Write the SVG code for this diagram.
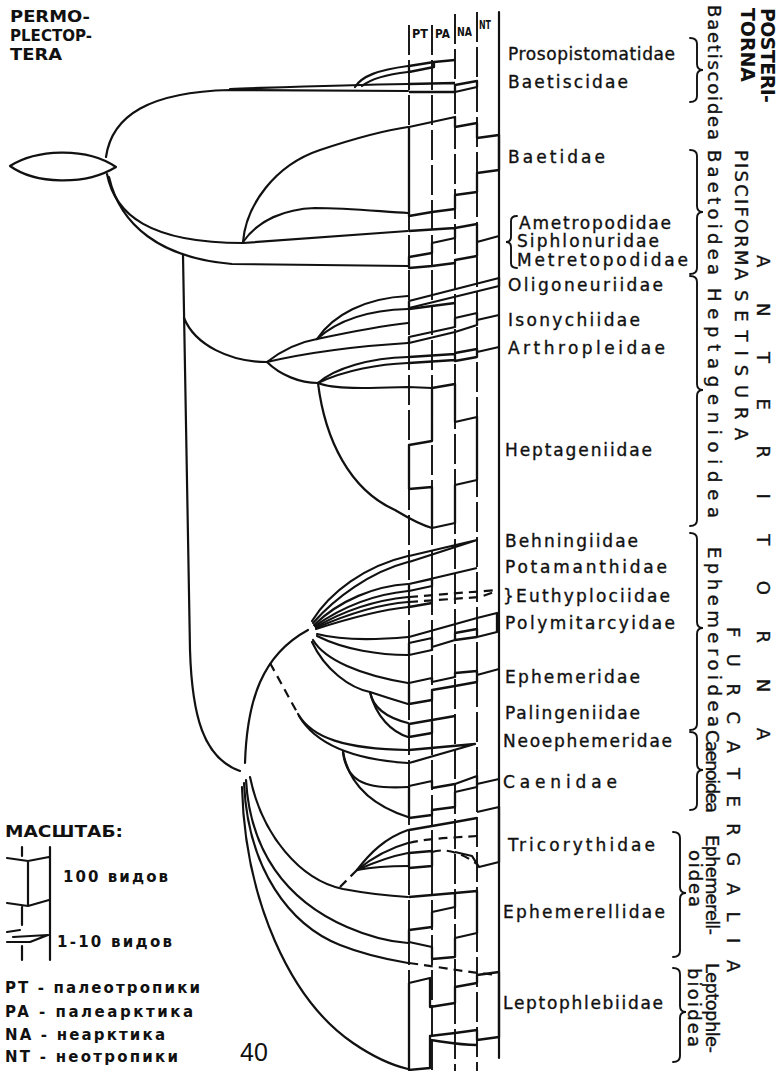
<svg xmlns="http://www.w3.org/2000/svg" width="777" height="1071" viewBox="0 0 777 1071">
<style>
.t{stroke:#111;stroke-width:2.2;fill:none;stroke-linecap:round;stroke-linejoin:round}
.d{stroke:#111;stroke-width:2.2;fill:none;stroke-dasharray:9 6}
.col{stroke:#111;stroke-width:1.9;fill:none;stroke-dasharray:30 5}
.s{stroke:#111;stroke-width:2.3;fill:none;stroke-linejoin:round}
.br{stroke:#111;stroke-width:1.9;fill:none;stroke-linecap:round}
.lb{font-family:"DejaVu Sans",sans-serif;font-size:17px;fill:#111;stroke:#111;stroke-width:0.35}
.vt{font-family:"DejaVu Sans",sans-serif;font-size:18px;fill:#111;stroke:#111;stroke-width:0.35}
.bd{font-family:"DejaVu Sans",sans-serif;font-weight:bold;fill:#111}
.lg{font-family:"DejaVu Sans",sans-serif;font-weight:bold;font-size:15px;fill:#111}
</style>
<rect width="777" height="1071" fill="#fff"/>

<g id="title">
<text class="bd" font-size="15" x="10" y="22" textLength="80" lengthAdjust="spacingAndGlyphs">PERMO-</text>
<text class="bd" font-size="15" x="10" y="41" textLength="82" lengthAdjust="spacingAndGlyphs">PLECTOP-</text>
<text class="bd" font-size="15" x="10" y="60" textLength="52" lengthAdjust="spacingAndGlyphs">TERA</text>
</g>

<g id="columns">
<line class="col" x1="409" y1="25" x2="409" y2="1071"/>
<line class="col" x1="432" y1="25" x2="432" y2="1071"/>
<line class="col" x1="455" y1="14" x2="455" y2="1071"/>
<line class="col" x1="477" y1="12" x2="477" y2="1071"/>
<line class="t" x1="499" y1="12" x2="499" y2="1058"/>
<text class="bd" font-size="13" x="412" y="38" textLength="16" lengthAdjust="spacingAndGlyphs">PT</text>
<text class="bd" font-size="13" x="435" y="38" textLength="15" lengthAdjust="spacingAndGlyphs">PA</text>
<text class="bd" font-size="13" x="457" y="36" textLength="15" lengthAdjust="spacingAndGlyphs">NA</text>
<text class="bd" font-size="13" x="479" y="29" textLength="12" lengthAdjust="spacingAndGlyphs">NT</text>
</g>

<g id="connectors">
<path class="t" d="M10,166 C35,150 85,146 116,167 C85,186 35,184 10,166 Z"/>
<path class="t" d="M106,157 C112,115 150,92 230,90 L408,91"/>
<path class="t" d="M230,89 C290,87 340,85 408,84"/>
<path class="t" d="M355,87 C362,76 378,70 408,66"/>
<path class="t" d="M362,86 C372,78 390,74 408,72"/>
<path class="t" d="M107,174 C115,215 150,243 243,243"/>
<path class="t" d="M109,177 C120,225 160,258 232,264 L408,266"/>
<path class="t" d="M243,242 C246,205 275,165 320,150 C350,140 380,131 408,127"/>
<path class="t" d="M243,242 C258,220 285,209 315,208 C350,208 385,212 408,213"/>
<path class="t" d="M243,243 L408,231"/>
<path class="t" d="M183,255 L190,650 C192,715 203,758 240,771"/>
<path class="t" d="M184,318 C195,345 230,362 267,362"/>
<path class="t" d="M267,362 C285,348 300,342 317,339"/>
<path class="t" d="M317,339 C333,315 365,298 408,296"/>
<path class="t" d="M317,339 C340,318 372,310 408,309"/>
<path class="t" d="M317,339 C350,332 380,326 408,323"/>
<path class="t" d="M267,362 C310,352 360,346 408,343"/>
<path class="t" d="M267,362 C280,375 300,383 318,383"/>
<path class="t" d="M318,383 C335,368 370,358 408,357"/>
<path class="t" d="M318,383 C345,370 380,364 408,363"/>
<path class="t" d="M318,383 C335,390 375,388 408,387 L432,388"/>
<path class="t" d="M318,383 C325,440 350,490 395,510 C405,516 418,524 432,528"/>
<path class="t" d="M245,763 C247,700 262,655 308,630"/>
<path class="t" d="M312,621 C330,592 365,566 408,556"/>
<path class="t" d="M313,623 C335,598 370,572 408,562"/>
<path class="t" d="M314,625 C340,600 375,586 408,584"/>
<path class="t" d="M315,626 C345,605 378,594 408,591"/>
<path class="t" d="M316,627 C345,610 378,600 408,597"/>
<path class="t" d="M316,628 C348,614 380,604 408,602"/>
<path class="t" d="M316,629 C350,618 380,610 408,607"/>
<path class="t" d="M317,634 C340,640 375,640 408,637"/>
<path class="t" d="M317,636 C345,650 380,655 408,655"/>
<path class="t" d="M313,640 C325,660 360,675 408,683"/>
<path class="t" d="M312,642 C325,670 350,688 370,692 C385,697 398,701 408,704"/>
<path class="t" d="M370,692 C373,708 388,718 408,723"/>
<path class="t" d="M370,692 C376,717 392,732 408,737"/>
<path class="d" d="M270,663 L298,714"/>
<path class="t" d="M298,714 C312,738 345,749 408,750"/>
<path class="t" d="M299,716 C318,748 360,760 408,763"/>
<path class="t" d="M343,752 C346,778 360,790 408,787"/>
<path class="t" d="M343,752 C350,790 380,808 408,817"/>
<path class="t" d="M250,777 C262,835 300,880 343,889 C370,894 390,896 408,897"/>
<path class="d" d="M340,887 L357,870"/>
<path class="t" d="M357,870 C370,853 385,838 408,830"/>
<path class="t" d="M357,870 C372,858 390,848 408,843"/>
<path class="t" d="M357,870 C375,862 392,856 408,853"/>
<path class="t" d="M357,870 C378,866 395,866 408,866"/>
<path class="t" d="M246,780 C250,850 285,900 347,927 C370,937 392,942 408,943"/>
<path class="t" d="M244,783 C248,870 290,925 340,945 C365,955 390,960 408,963"/>
<path class="t" d="M242,787 C245,900 290,1000 353,1043 C375,1058 395,1066 408,1069"/>
</g>

<g id="prosopistomatidae">
<path class="s" d="M409,66 L434,62 L434,67 L409,72 Z M434,62 L455,60"/>
<text class="lb" x="508" y="60" textLength="167" lengthAdjust="spacing">Prosopistomatidae</text>
</g>
<g id="baetiscidae">
<path class="s" d="M409,84 L455,83 M409,92 L455,92 M455,85 L477,81 L477,87 L455,92 Z"/>
<text class="lb" x="508" y="88" textLength="120" lengthAdjust="spacing">Baetiscidae</text>
</g>
<g id="baetidae">
<path class="s" d="M409,127 L455,117 L455,127 L477,123 L477,138 L499,135 L499,170 L477,173 L477,192 L455,195 L455,209 L432,212 L409,216 Z"/>
<text class="lb" x="508" y="163" textLength="97" lengthAdjust="spacing">Baetidae</text>
</g>
<g id="baetoidea-group">
<path class="s" d="M409,231 L455,228 M409,257 L432,253 L432,243 L455,238 L455,228 L477,224 L477,256 L455,260 L455,263 L432,266 L409,268 Z M477,242 L499,236"/>
<path class="br" d="M517,216 Q511,216 511,221 L511,237 Q511,242 506,242 Q511,242 511,247 L511,263 Q511,268 517,268"/>
<text class="lb" x="519" y="229" textLength="152" lengthAdjust="spacing">Ametropodidae</text>
<text class="lb" x="517" y="247" textLength="142" lengthAdjust="spacing">Siphlonuridae</text>
<text class="lb" x="517" y="266" textLength="171" lengthAdjust="spacing">Metretopodidae</text>
</g>
<g id="oligoneuriidae">
<path class="s" d="M409,301 L499,278 L499,286 L409,308 Z"/>
<text class="lb" x="508" y="291" textLength="155" lengthAdjust="spacing">Oligoneuriidae</text>
</g>
<g id="isonychiidae">
<path class="s" d="M409,309 L455,303 M409,337 L455,327 L455,318 L477,313 L477,325 L455,332 L409,343 Z M477,320 L499,315"/>
<text class="lb" x="508" y="326" textLength="132" lengthAdjust="spacing">Isonychiidae</text>
</g>
<g id="arthropleidae">
<path class="s" d="M409,357 L455,354 M409,363 L455,360 M455,353 L477,349 L477,357 L455,361 Z M477,352 L499,347"/>
<text class="lb" x="508" y="354" textLength="157" lengthAdjust="spacing">Arthropleidae</text>
</g>
<g id="heptageniidae">
<path class="s" d="M432,388 L455,384 L455,422 L477,417 L477,480 L455,485 L455,523 L432,528 L432,487 L409,489 L409,445 L432,441 Z"/>
<text class="lb" x="505" y="456" textLength="147" lengthAdjust="spacing">Heptageniidae</text>
</g>
<g id="behningiidae">
<path class="s" d="M409,556 L477,540 L409,562"/>
<text class="lb" x="505" y="547" textLength="133" lengthAdjust="spacing">Behningiidae</text>
</g>
<g id="potamanthidae">
<path class="s" d="M409,584 L477,568 M409,584 L432,579 L432,586 L409,591 Z"/>
<text class="lb" x="505" y="573" textLength="162" lengthAdjust="spacing">Potamanthidae</text>
</g>
<g id="euthyplociidae">
<path class="d" d="M409,597 L497,590 M409,602 L480,597 L497,591"/>
<path class="s" d="M409,607 L432,603 M409,597 L409,607"/>
<text class="lb" x="503" y="602" textLength="167" lengthAdjust="spacing">}Euthyplociidae</text>
</g>
<g id="polymitarcyidae">
<path class="s" d="M409,637 L477,618 L497,613 L497,632 L477,637 M455,633 L477,629 L477,637 L455,640 Z M409,643 L432,638 L432,650 L409,655 Z M432,647 L455,640"/>
<text class="lb" x="505" y="629" textLength="170" lengthAdjust="spacing">Polymitarcyidae</text>
</g>
<g id="ephemeridae">
<path class="s" d="M409,683 L432,678 L432,682 L455,677 L455,673 L477,671 L477,682 L455,686 L432,690 L432,700 L409,704 Z M477,675 L499,669"/>
<text class="lb" x="505" y="683" textLength="135" lengthAdjust="spacing">Ephemeridae</text>
</g>
<g id="palingeniidae">
<path class="s" d="M409,724 L432,720 L432,733 L409,737 Z M432,720 L455,716"/>
<text class="lb" x="505" y="719" textLength="135" lengthAdjust="spacing">Palingeniidae</text>
</g>
<g id="neoephemeridae">
<path class="s" d="M409,750 L475,744 L409,763"/>
<text class="lb" x="503" y="747" textLength="169" lengthAdjust="spacing">Neoephemeridae</text>
</g>
<g id="caenidae">
<path class="s" d="M409,786 L432,781 L432,788 L455,784 L477,776 L477,787 L455,792 L455,807 L432,810 L432,815 L409,818 Z M477,784 L499,779"/>
<text class="lb" x="503" y="788" textLength="114" lengthAdjust="spacing">Caenidae</text>
</g>
<g id="tricorythidae">
<path class="s" d="M409,853 L432,851 L432,866 L409,868 Z M409,830 L432,826 L455,822 L477,818 M477,812 L499,807 L499,862 L479,867 L472,856 L455,852"/>
<path class="d" d="M432,852 C445,848 460,852 477,864 M409,843 C430,838 450,838 477,836"/>
<text class="lb" x="508" y="851" textLength="147" lengthAdjust="spacing">Tricorythidae</text>
</g>
<g id="ephemerellidae">
<path class="s" d="M409,897 L455,893 M455,893 L477,891 L477,933 L455,938 L455,957 L432,959 L432,947 L409,942 L409,930 L432,927 L432,912 L455,907 Z"/>
<text class="lb" x="503" y="918" textLength="162" lengthAdjust="spacing">Ephemerellidae</text>
</g>
<g id="leptophlebiidae">
<path class="d" d="M409,963 C440,967 465,972 497,975"/>
<path class="s" d="M409,983 L430,978 L430,1007 L455,1003 L455,987 L477,983 L477,975 L499,972 L499,1037 L477,1040 L477,1030 L455,1033 L430,1036 L430,1068 L409,1070 Z M430,1040 C445,1042 460,1045 477,1045"/>
<text class="lb" x="503" y="1009" textLength="160" lengthAdjust="spacing">Leptophlebiidae</text>
</g>

<g id="groups">
<path class="br" d="M690,38 Q697,38 697,44 L697,64 Q697,70 703,70 Q697,70 697,76 L697,96 Q697,102 690,102"/>
<path class="br" d="M690,150 Q697,150 697,156 L697,206 Q697,212 703,212 Q697,212 697,218 L697,268 Q697,274 690,274"/>
<path class="br" d="M690,276 Q697,276 697,282 L697,384 Q697,390 703,390 Q697,390 697,396 L697,520 Q697,526 690,526"/>
<path class="br" d="M690,533 Q697,533 697,539 L697,622 Q697,628 703,628 Q697,628 697,634 L697,724 Q697,730 690,730"/>
<path class="br" d="M690,732 Q697,732 697,738 L697,764 Q697,770 703,770 Q697,770 697,776 L697,804 Q697,810 690,810"/>
<path class="br" d="M673,832 Q680,832 680,838 L680,887 Q680,893 686,893 Q680,893 680,899 L680,951 Q680,957 673,957"/>
<path class="br" d="M673,968 Q680,968 680,974 L680,1006 Q680,1012 686,1012 Q680,1012 680,1018 L680,1056 Q680,1062 673,1062"/>
<text class="bd" font-size="19" transform="translate(761,8) rotate(90)" textLength="95" lengthAdjust="spacing">POSTERI-</text>
<text class="bd" font-size="19" transform="translate(741,8) rotate(90)" textLength="74" lengthAdjust="spacing">TORNA</text>
<text class="vt" transform="translate(708,5) rotate(90)" textLength="135" lengthAdjust="spacing">Baetiscoidea</text>
<text class="vt" transform="translate(735,150) rotate(90)" textLength="130" lengthAdjust="spacing">PISCIFORMA</text>
<text class="vt" transform="translate(708,150) rotate(90)" textLength="125" lengthAdjust="spacing">Baetoidea</text>
<text class="vt" transform="translate(708,288) rotate(90)" textLength="230" lengthAdjust="spacing">Heptagenioidea</text>
<text class="vt" transform="translate(735,290) rotate(90)" textLength="150" lengthAdjust="spacing">SETISURA</text>
<text class="vt" font-size="25" transform="translate(757,255) rotate(90)" textLength="485" lengthAdjust="spacing">ANTERITORNA</text>
<text class="vt" transform="translate(708,547) rotate(90)" textLength="180" lengthAdjust="spacing">Ephemeroidea</text>
<text class="vt" font-size="21" transform="translate(727,627) rotate(90)" textLength="345" lengthAdjust="spacing">FURCATERGALIA</text>
<text class="vt" font-size="14" transform="translate(706,730) rotate(90)" textLength="83" lengthAdjust="spacing">Caenoidea</text>
<text class="vt" font-size="16" transform="translate(706,835) rotate(90)" textLength="100" lengthAdjust="spacing">Ephemerell-</text>
<text class="vt" font-size="16" transform="translate(689,850) rotate(90)" textLength="57" lengthAdjust="spacing">oidea</text>
<text class="vt" font-size="16" transform="translate(706,963) rotate(90)" textLength="90" lengthAdjust="spacing">Leptophle-</text>
<text class="vt" font-size="16" transform="translate(688,968) rotate(90)" textLength="79" lengthAdjust="spacing">bioidea</text>
</g>

<g id="legend">
<text class="lg" font-size="16" x="5" y="837" textLength="118" lengthAdjust="spacingAndGlyphs">МАСШТАБ:</text>
<path class="t" d="M50,847 L50,960 M22,847 L22,856 M7,858 L28,861 L49,857 M28,861 L28,905 M7,903 L28,906 L49,900 M22,907 L22,925 M22,946 L22,960 M7,932 L20,930 M13,937 L48,935 L30,942 L7,942"/>
<text class="lg" x="63" y="882" textLength="105" lengthAdjust="spacing">100 видов</text>
<text class="lg" x="57" y="947" textLength="115" lengthAdjust="spacing">1-10 видов</text>
<text class="lg" x="5" y="993" textLength="195" lengthAdjust="spacing">PT - палеотропики</text>
<text class="lg" x="5" y="1017" textLength="188" lengthAdjust="spacing">PA - палеарктика</text>
<text class="lg" x="5" y="1040" textLength="160" lengthAdjust="spacing">NA - неарктика</text>
<text class="lg" x="5" y="1062" textLength="173" lengthAdjust="spacing">NT - неотропики</text>
<text font-family="Liberation Sans, sans-serif" font-size="25" x="240" y="1061" fill="#111">40</text>
</g>
</svg>
